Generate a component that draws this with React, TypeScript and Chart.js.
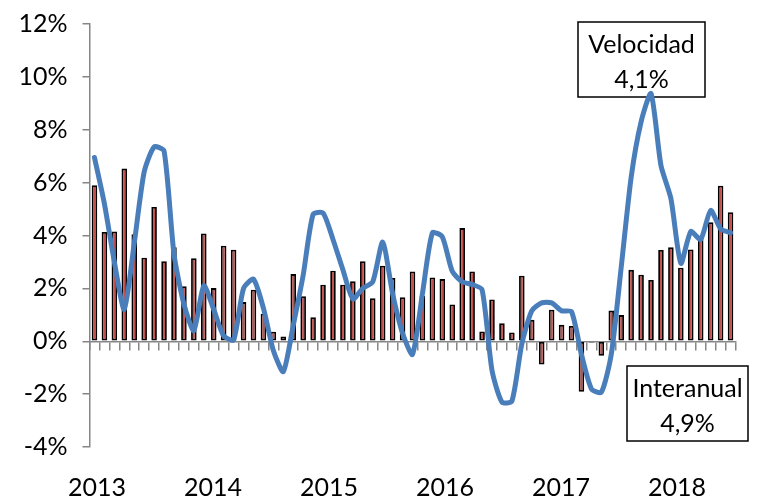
import React, { useEffect, useRef } from 'react';
import { Chart, registerables } from 'chart.js';

Chart.register(...registerables);

// ---- data ----
const YEARS = ['2013', '2014', '2015', '2016', '2017', '2018'];
const MONTHS = ['ene', 'feb', 'mar', 'abr', 'may', 'jun', 'jul', 'ago', 'sep', 'oct', 'nov', 'dic'];
const MONTH_COUNT = 65; // ene 2013 .. may 2018
const CATEGORIES = YEARS.flatMap((y) => MONTHS.map((m) => `${m} ${y}`)).slice(0, MONTH_COUNT);

// Interanual (bars), %
const INTERANUAL = [
  5.9, 4.13, 4.15, 6.53, 4.05, 3.16, 5.08, 3.03, 3.56, 2.08, 3.14, 4.08,
  2.01, 3.61, 3.46, 1.48, 1.95, 1.04, 0.36, 0.18, 2.54, 1.7, 0.91, 2.14,
  2.67, 2.14, 2.27, 3.03, 1.63, 2.86, 2.39, 1.66, 2.64, 1.72, 2.41, 2.35,
  1.39, 4.28, 2.64, 0.37, 1.58, 0.68, 0.33, 2.48, 0.81, -0.88, 1.19, 0.62,
  0.58, -1.91, -0.05, -0.55, 1.16, 0.99, 2.7, 2.52, 2.32, 3.45, 3.56, 2.78,
  3.47, 3.9, 4.5, 5.88, 4.88,
];

// Velocidad (line), %
const VELOCIDAD = [
  6.95, 5.2, 3.0, 1.2, 3.7, 6.4, 7.35, 7.2, 3.3, 1.4, 0.4, 2.1,
  1.2, 0.2, 0.05, 2.0, 2.35, 1.25, -0.35, -1.15, 0.6, 2.5, 4.8, 4.85,
  3.85, 2.7, 1.6, 2.0, 2.25, 3.75, 1.8, 0.3, -0.5, 1.8, 4.1, 3.95,
  2.65, 2.25, 2.15, 1.95, -1.1, -2.3, -2.27, -0.1, 1.15, 1.45, 1.45, 1.15,
  1.12, -0.5, -1.8, -1.93, -0.5, 2.8, 6.2, 8.3, 9.37, 6.65, 5.4, 2.95,
  4.15, 3.85, 4.95, 4.25, 4.1,
];

const Y_MIN = -4;
const Y_MAX = 12;
const Y_STEP = 2;

// year-label axis range (labels sit slightly closer together than 12 bars)
const YEAR_AXIS_MIN = 2012.935;
const YEAR_AXIS_MAX = 2018.505;

const CALLOUTS = [
  { lines: ['Velocidad', '4,1%'], x: 578, y: 22, w: 127, h: 75 },
  { lines: ['Interanual', '4,9%'], x: 627, y: 366, w: 121, h: 75 },
];

const FONT = 'Lato';
const AXIS_GRAY = '#868686';

const calloutPlugin = {
  id: 'callouts',
  beforeDatasetsDraw(chart: any) {
    const ctx = chart.ctx as CanvasRenderingContext2D;
    ctx.save();
    for (const c of CALLOUTS) {
      ctx.fillStyle = '#ffffff';
      ctx.fillRect(c.x, c.y, c.w, c.h);
      ctx.strokeStyle = '#000000';
      ctx.lineWidth = 1.5;
      ctx.strokeRect(c.x, c.y, c.w, c.h);
      ctx.fillStyle = '#000000';
      ctx.font = `25px ${FONT}`;
      ctx.textAlign = 'center';
      ctx.textBaseline = 'alphabetic';
      const cx = c.x + c.w / 2;
      ctx.fillText(c.lines[0], cx, c.y + 31);
      ctx.fillText(c.lines[1], cx, c.y + 66);
    }
    ctx.restore();
  },
};

export default function App() {
  const canvasRef = useRef<HTMLCanvasElement | null>(null);

  useEffect(() => {
    if (!canvasRef.current) return;
    Chart.defaults.font.family = FONT;
    const chart = new Chart(canvasRef.current, {
      type: 'bar',
      data: {
        labels: CATEGORIES,
        datasets: [
          {
            type: 'line',
            label: 'Velocidad',
            data: VELOCIDAD,
            borderColor: '#4A7EBB',
            borderWidth: 5,
            tension: 0.22,
            pointRadius: 0,
            borderCapStyle: 'round',
            borderJoinStyle: 'round',
            fill: false,
            order: 1,
            xAxisID: 'x',
            yAxisID: 'y',
          } as any,
          {
            type: 'bar',
            label: 'Interanual',
            data: INTERANUAL,
            backgroundColor: '#C0504D',
            borderColor: '#000000',
            borderWidth: 1.8,
            borderSkipped: false,
            categoryPercentage: 1,
            barPercentage: 0.56,
            order: 2,
            xAxisID: 'x',
            yAxisID: 'y',
          } as any,
        ],
      },
      options: {
        animation: false,
        responsive: false,
        maintainAspectRatio: false,
        layout: { padding: { top: 24, right: 30.5, left: 0, bottom: 0 } },
        plugins: {
          legend: { display: false },
          tooltip: { enabled: false },
        },
        scales: {
          x: {
            type: 'category',
            position: { y: 0 } as any,
            offset: true,
            grid: {
              display: true,
              drawOnChartArea: false,
              drawTicks: true,
              tickLength: 8,
              color: AXIS_GRAY,
              lineWidth: 1.5,
              offset: true,
            },
            border: { display: true, color: AXIS_GRAY, width: 1.5 },
            ticks: { display: false, autoSkip: false },
          },
          x2: {
            type: 'linear',
            position: 'bottom',
            min: YEAR_AXIS_MIN,
            max: YEAR_AXIS_MAX,
            offset: false,
            grid: { display: false, offset: false },
            border: { display: false },
            afterBuildTicks: (s: any) => {
              s.ticks = YEARS.map((y) => ({ value: Number(y) }));
            },
            ticks: {
              autoSkip: false,
              maxRotation: 0,
              minRotation: 0,
              padding: 18,
              color: '#000000',
              font: { family: FONT, size: 25 },
              callback: (v: any) => String(v),
            },
            afterFit: (s: any) => {
              s.height = 50;
              s.paddingLeft = 0;
              s.paddingRight = 0;
            },
          } as any,
          y: {
            min: Y_MIN,
            max: Y_MAX,
            ticks: {
              stepSize: Y_STEP,
              padding: 15,
              color: '#000000',
              font: { family: FONT, size: 25 },
              callback: (v: any) => `${v}%`,
            },
            grid: {
              display: true,
              drawOnChartArea: false,
              drawTicks: true,
              tickLength: 7,
              color: AXIS_GRAY,
              lineWidth: 1.5,
            },
            border: { display: true, color: AXIS_GRAY, width: 1.5 },
            afterFit: (s: any) => {
              s.width = 89.5;
              s.paddingTop = 0;
              s.paddingBottom = 0;
            },
          } as any,
        },
      },
      plugins: [calloutPlugin],
    });
    return () => chart.destroy();
  }, []);

  return (
    <div style={{ position: 'absolute', left: 0, top: 0, width: 766, height: 497, background: '#fff' }}>
      <canvas ref={canvasRef} width={766} height={497} style={{ display: 'block', width: 766, height: 497 }} />
    </div>
  );
}
